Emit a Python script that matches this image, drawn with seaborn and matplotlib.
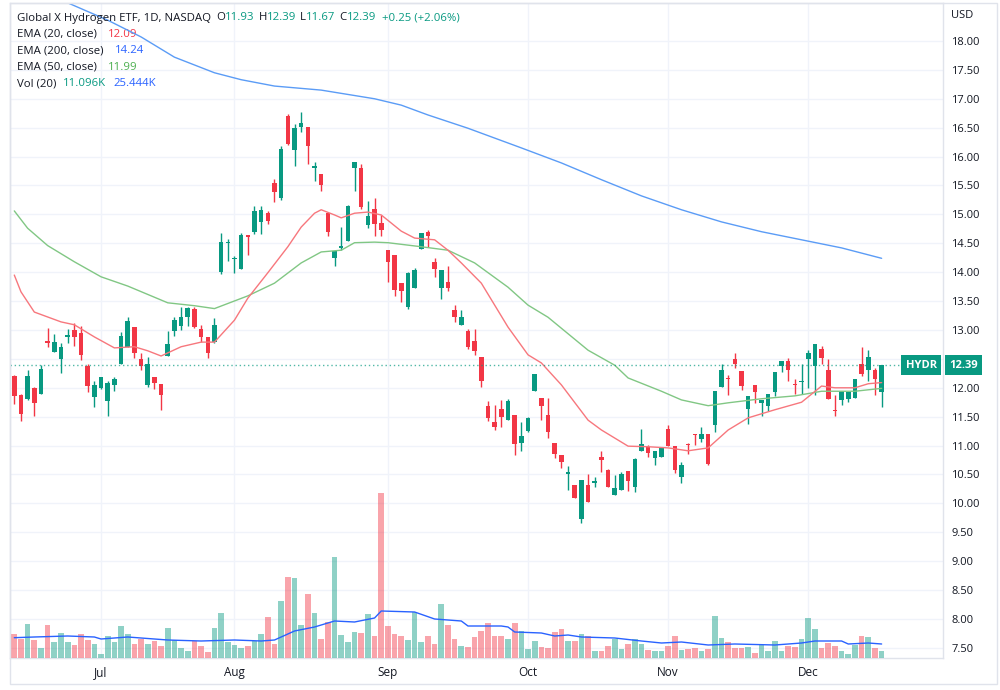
import numpy as np
import pandas as pd
import matplotlib
matplotlib.use("Agg")
import matplotlib.pyplot as plt
import matplotlib.transforms as mtransforms
from matplotlib.patches import Rectangle
import seaborn as sns

# HYDR daily bars, 13 Jun 2022 .. 16 Dec 2022
holidays = ["2022-06-20", "2022-07-04", "2022-09-05", "2022-11-24"]

opens = [12.21, 11.88, 11.80, 11.99, 11.89, 12.81, 12.62, 12.49, 12.87, 13.00,
         12.95, 12.38, 11.84, 12.00, 11.77, 12.04, 12.41, 12.71, 13.06, 12.50,
         12.05, 12.18, 12.06, 12.55, 12.99, 13.07, 13.23, 13.37, 13.02, 12.87,
         12.80, 14.01, 14.51, 14.22, 14.05, 14.64, 14.70, 14.86, 15.02, 15.54,
         15.29, 16.70, 16.11, 16.51, 16.51, 15.80, 15.70, 15.03, 14.25, 14.41,
         14.54, 15.81, 15.80, 14.81, 15.10, 14.85, 14.38, 14.29, 13.81, 13.40,
         13.73, 14.40, 14.69, 14.18, 13.73, 13.83, 13.35, 13.09, 12.99, 12.81,
         12.53, 11.69, 11.41, 11.63, 11.44, 11.53, 11.04, 11.25, 11.94, 11.83,
         11.53, 11.05, 10.83, 10.51, 10.31, 9.73, 10.32, 10.36, 10.81, 10.57,
         10.15, 10.24, 10.56, 10.28, 10.91, 10.97, 10.78, 10.80, 11.28, 11.00,
         10.46, 11.03, 11.20, 11.11, 11.20, 11.35, 12.01, 12.16, 12.49, 12.29,
         11.63, 12.04, 11.73, 11.69, 11.92, 12.37, 12.46, 12.06, 12.10, 12.50,
         12.37, 12.67, 12.30, 11.62, 11.79, 11.80, 11.82, 12.42, 12.30, 12.30,
         11.93]
highs = [12.22, 11.89, 12.31, 12.01, 12.39, 13.04, 12.93, 12.77, 13.01, 13.12,
         13.07, 12.42, 12.11, 12.19, 12.11, 12.19, 12.97, 13.22, 13.06, 12.60,
         12.54, 12.18, 12.06, 12.99, 13.23, 13.39, 13.39, 13.40, 13.09, 12.87,
         13.21, 14.68, 14.57, 14.28, 14.68, 14.64, 15.15, 15.15, 15.06, 15.61,
         16.19, 16.74, 16.56, 16.77, 16.51, 15.91, 15.70, 15.03, 14.37, 14.79,
         15.17, 15.91, 15.87, 15.23, 15.28, 14.99, 14.38, 14.29, 13.81, 14.01,
         14.07, 14.67, 14.73, 14.24, 14.03, 14.10, 13.43, 13.35, 13.01, 13.01,
         12.53, 11.77, 11.70, 11.78, 11.80, 11.53, 11.41, 11.49, 12.23, 11.83,
         11.83, 11.05, 10.83, 10.65, 10.31, 10.40, 10.51, 10.45, 10.90, 10.59,
         10.49, 10.55, 10.56, 10.79, 11.29, 11.01, 10.90, 10.96, 11.36, 11.00,
         10.72, 11.05, 11.20, 11.33, 11.20, 11.95, 12.41, 12.22, 12.60, 12.29,
         11.86, 12.04, 11.78, 11.89, 12.27, 12.46, 12.51, 12.15, 12.42, 12.65,
         12.76, 12.72, 12.50, 11.88, 11.95, 11.93, 12.16, 12.71, 12.65, 12.34,
         12.39]
lows = [11.72, 11.43, 11.78, 11.52, 11.89, 12.71, 12.62, 12.26, 12.77, 12.72,
        12.48, 11.93, 11.67, 11.98, 11.52, 11.94, 12.41, 12.71, 12.52, 12.30,
        12.02, 11.98, 11.62, 12.55, 12.90, 13.00, 13.07, 13.03, 12.80, 12.52,
        12.77, 13.96, 14.20, 13.99, 14.05, 14.30, 14.66, 14.66, 14.83, 15.22,
        15.25, 16.20, 15.84, 16.42, 15.87, 15.58, 15.41, 14.63, 14.10, 14.38,
        14.54, 15.41, 15.09, 14.77, 14.63, 14.63, 13.83, 13.58, 13.48, 13.36,
        13.73, 14.40, 14.43, 13.91, 13.54, 13.68, 13.14, 13.09, 12.67, 12.56,
        12.02, 11.43, 11.27, 11.33, 11.44, 10.84, 10.90, 11.23, 11.94, 11.45,
        11.13, 10.79, 10.62, 10.24, 10.10, 9.66, 10.02, 10.29, 10.55, 10.28,
        10.15, 10.24, 10.21, 10.20, 10.91, 10.80, 10.66, 10.80, 11.00, 10.52,
        10.36, 10.85, 11.01, 11.07, 10.66, 11.24, 12.01, 11.88, 12.34, 11.96,
        11.37, 11.73, 11.52, 11.60, 11.86, 12.27, 12.12, 11.89, 11.89, 11.99,
        11.88, 12.41, 11.80, 11.51, 11.70, 11.76, 11.82, 12.20, 12.12, 11.88,
        11.67]
closes = [11.85, 11.54, 12.20, 11.74, 12.32, 12.77, 12.79, 12.70, 12.91, 12.87,
          12.56, 12.03, 12.05, 12.18, 12.09, 12.16, 12.90, 13.15, 12.61, 12.38,
          12.42, 12.08, 11.88, 12.75, 13.17, 13.23, 13.38, 13.06, 12.88, 12.60,
          13.08, 14.52, 14.52, 14.24, 14.64, 14.60, 15.05, 15.08, 14.89, 15.38,
          16.13, 16.22, 16.50, 16.58, 16.18, 15.84, 15.51, 14.70, 14.37, 14.46,
          15.15, 15.91, 15.12, 14.97, 14.83, 14.73, 14.17, 13.69, 13.68, 13.98,
          14.04, 14.67, 14.62, 14.05, 14.03, 13.72, 13.22, 13.23, 12.70, 12.64,
          12.11, 11.47, 11.33, 11.50, 11.77, 11.03, 11.17, 11.47, 12.23, 11.69,
          11.23, 10.86, 10.71, 10.54, 10.10, 10.40, 10.03, 10.39, 10.75, 10.28,
          10.26, 10.50, 10.38, 10.77, 11.02, 10.87, 10.90, 10.95, 11.00, 10.58,
          10.66, 11.01, 11.18, 11.20, 10.68, 11.95, 12.31, 12.15, 12.41, 12.03,
          11.86, 11.92, 11.78, 11.89, 12.27, 12.46, 12.30, 12.04, 12.12, 12.61,
          12.76, 12.51, 11.80, 11.60, 11.95, 11.93, 12.16, 12.24, 12.53, 12.15,
          12.39]
volumes_k = [38.4, 30.4, 54.4, 29.3, 16.5, 52.8, 26.1, 40.0, 25.1, 20.8,
             38.9, 28.3, 21.9, 6.4, 35.7, 25.1, 51.2, 38.9, 22.9, 30.4,
             21.9, 27.7, 19.7, 47.5, 28.3, 16.0, 10.7, 27.2, 19.7, 9.6,
             47.5, 72.0, 25.1, 20.8, 16.5, 19.7, 27.2, 38.4, 66.1, 22.9,
             91.2, 129.6, 128.0, 52.8, 102.9, 72.5, 30.9, 57.1, 161.6, 36.8,
             26.1, 42.1, 40.0, 70.9, 35.7, 264.0, 51.2, 38.9, 35.7, 29.3,
             73.1, 26.1, 35.7, 22.9, 86.9, 52.8, 30.4, 18.7, 17.6, 33.6,
             43.2, 55.5, 35.7, 34.7, 29.9, 56.5, 43.2, 14.9, 27.2, 17.6,
             16.0, 41.1, 46.9, 27.2, 27.2, 38.9, 35.7, 11.7, 11.7, 19.2,
             30.9, 14.9, 21.9, 30.9, 21.9, 12.8, 11.7, 11.7, 19.2, 35.7,
             12.8, 14.9, 16.5, 10.7, 13.9, 67.2, 32.0, 25.6, 16.0, 16.0,
             17.6, 8.5, 20.3, 10.7, 27.2, 11.7, 19.2, 18.1, 29.9, 63.5,
             46.4, 15.5, 24.5, 19.2, 10.7, 6.4, 20.3, 35.7, 33.1, 16.5,
             11.1]

# indicator lines, sampled at bar numbers
ema20_bars = [0, 1, 3, 7, 9, 12, 15, 18, 20, 22, 25, 28, 30, 33, 35, 38, 41, 43, 45, 46,
              48, 49, 51, 53, 55, 58, 60, 63, 65, 67, 70, 74, 77, 79, 82, 86, 88, 92, 95, 98,
              101, 104, 107, 110, 114, 118, 121, 123, 126, 128, 130]
ema20 = [13.95, 13.66, 13.31, 13.14, 13.09, 12.88, 12.69, 12.71, 12.64, 12.55,
         12.71, 12.79, 12.79, 13.17, 13.55, 13.99, 14.44, 14.78, 15.02, 15.08,
         14.99, 14.94, 15.02, 15.04, 14.99, 14.71, 14.59, 14.56, 14.38, 14.16,
         13.81, 13.05, 12.57, 12.43, 12.05, 11.44, 11.27, 10.99, 10.98, 10.96,
         10.91, 10.96, 11.27, 11.48, 11.62, 11.75, 12.03, 12.00, 12.00, 12.07, 12.09]
ema50_bars = [0, 2, 5, 9, 13, 17, 23, 27, 30, 35, 39, 43, 46, 49, 51, 54, 56, 61, 65, 69,
              74, 77, 80, 86, 90, 92, 97, 100, 104, 107, 112, 117, 121, 126, 130]
ema50 = [15.06, 14.76, 14.46, 14.18, 13.92, 13.76, 13.47, 13.42, 13.37, 13.59,
         13.81, 14.16, 14.35, 14.38, 14.51, 14.52, 14.51, 14.44, 14.38, 14.16,
         13.74, 13.43, 13.22, 12.65, 12.39, 12.17, 11.94, 11.79, 11.69, 11.74,
         11.81, 11.86, 11.94, 11.94, 11.99]
ema200_bars = [0, 8, 14, 19, 24, 30, 34, 39, 46, 54, 58, 62, 68, 76, 82, 88, 94, 100,
               106, 112, 118, 124, 130]
ema200 = [19.04, 18.66, 18.36, 18.07, 17.72, 17.45, 17.33, 17.22, 17.15, 17.00,
          16.89, 16.72, 16.49, 16.15, 15.89, 15.60, 15.32, 15.08, 14.87, 14.70,
          14.56, 14.42, 14.24]
volma_bars = [0, 3, 8, 12, 13, 17, 23, 28, 33, 37, 39, 42, 45, 48, 51, 54, 55, 60, 63, 67,
              68, 73, 74, 75, 79, 81, 83, 85, 90, 94, 97, 100, 104, 108, 114, 118, 120, 124,
              125, 128, 130]
volma = [32.5, 33.6, 35.2, 33.6, 30.4, 33.6, 28.8, 27.2, 28.8, 27.2,
         28.8, 43.2, 49.6, 59.2, 57.6, 64.0, 75.2, 73.6, 62.4, 59.2,
         51.2, 51.2, 49.6, 41.6, 40.0, 35.2, 36.8, 33.6, 32.0, 27.2,
         24.0, 25.6, 20.8, 22.4, 20.8, 24.0, 27.2, 27.2, 22.4, 24.0, 22.4]

legend_rows = [
    [("Global X Hydrogen ETF, 1D, NASDAQ", "dark", 0), ("O", "dark", 5), ("11.93", "up", 0),
     ("H", "dark", 4), ("12.39", "up", 0), ("L", "dark", 4), ("11.67", "up", 0),
     ("C", "dark", 4), ("12.39", "up", 0), ("+0.25 (+2.06%)", "up", 6)],
    [("EMA (20, close)", "dark", 0), ("12.09", "red", 11)],
    [("EMA (200, close)", "dark", 0), ("14.24", "blue", 11)],
    [("EMA (50, close)", "dark", 0), ("11.99", "green", 11)],
    [("Vol (20)", "dark", 0), ("11.096K", "up", 7), ("25.444K", "blue", 7)],
]

UP = "#089981"
DOWN = "#f23645"
DARK = "#131722"
BORDER = "#e0e3eb"
GRID = "#f0f3fa"
TXT = {"dark": DARK, "up": UP, "red": DOWN, "blue": "#2962ff", "green": "#4caf50"}
FS = 8

sns.set_theme(style="white")
plt.rcParams["font.family"] = ["Open Sans", "DejaVu Sans"]

dates = pd.bdate_range("2022-06-13", "2022-12-16")
dates = dates[~dates.isin(pd.to_datetime(holidays))]
x = np.arange(len(dates))
o, h, l, c = (np.array(a) for a in (opens, highs, lows, closes))
up = c >= o
cols = np.where(up, UP, DOWN)

W, H = 1000, 690
fig = plt.figure(figsize=(W / 100, H / 100), dpi=100)


def rect(x0, y0, x1, y1):
    return [x0 / W, 1 - y1 / H, (x1 - x0) / W, (y1 - y0) / H]


ax = fig.add_axes(rect(10, 3, 943, 658))
ax_v = fig.add_axes(rect(10, 3, 943, 658), sharex=ax)
ax_v.patch.set_alpha(0)

# candles
ax.vlines(x, l, h, colors=cols, lw=1, zorder=2)
ax.bar(x, np.maximum(np.abs(c - o), 0.02), bottom=np.minimum(o, c), width=0.68,
       color=cols, lw=0, zorder=3)

sns.lineplot(x=ema200_bars, y=ema200, ax=ax, color="#5b9cf6", lw=1, zorder=4)
sns.lineplot(x=ema50_bars, y=ema50, ax=ax, color="#81c784", lw=1, zorder=4)
sns.lineplot(x=ema20_bars, y=ema20, ax=ax, color="#f7777d", lw=1, zorder=4)
ax.axhline(closes[-1], color=UP, ls=(0, (1, 2)), lw=1, alpha=0.7, zorder=4)

# volume pane
ax_v.bar(x, volumes_k, width=0.85, color=cols, alpha=0.45, lw=0)
sns.lineplot(x=volma_bars, y=volma, ax=ax_v, color="#2962ff", lw=1)
ax_v.set_ylim(0, 655 * 1.6)
ax_v.set_xlabel("")
ax_v.set_ylabel("")
ax_v.tick_params(left=False, bottom=False, labelleft=False, labelbottom=False)
for s in ax_v.spines.values():
    s.set_visible(False)

ax.set_xlim(-0.645, 139.2)
ax.set_ylim(7.325, 18.657)
ax.set_xlabel("")
ax.set_ylabel("")

ticks = np.arange(7.5, 18.01, 0.5)
ax.yaxis.tick_right()
ax.set_yticks(ticks, labels=[f"{t:.2f}" for t in ticks])
month_pos = [i for i in range(len(dates)) if i == 0 or dates[i].month != dates[i - 1].month][1:]
ax.set_xticks(month_pos, labels=[dates[i].strftime("%b") for i in month_pos])
ax.tick_params(axis="y", length=0, pad=6, labelsize=FS, labelcolor=DARK)
ax.tick_params(axis="x", length=0, pad=6, labelsize=FS + 0.5, labelcolor=DARK)
ax.grid(True, color=GRID, lw=1)
ax.set_axisbelow(True)
for s in ax.spines.values():
    s.set_color(BORDER)
    s.set_linewidth(1)

fig.patches.append(Rectangle((10 / W, 1 - 684 / H), 987 / W, 681 / H, transform=fig.transFigure,
                             fill=False, ec=BORDER, lw=1))
fig.text(951 / W, 1 - 15 / H, "USD", fontsize=FS, color=DARK, va="center", ha="left")

# last price labels
blend = mtransforms.blended_transform_factory(ax.transAxes, ax.transData)
box = dict(boxstyle="square,pad=0.4", fc=UP, ec="none")
ax.annotate(f"{closes[-1]:.2f}", xy=(1, closes[-1]), xycoords=blend, xytext=(6, 0),
            textcoords="offset pixels", ha="left", va="center", color="white", fontsize=FS,
            fontweight="bold", bbox=box, zorder=10, annotation_clip=False)
ax.annotate("HYDR", xy=(1, closes[-1]), xycoords=blend, xytext=(-6, 0),
            textcoords="offset pixels", ha="right", va="center", color="white", fontsize=FS,
            fontweight="bold", bbox=box, zorder=10, annotation_clip=False)

# legend rows
for k, row in enumerate(legend_rows):
    y = 18 + k * 16.4
    prev = None
    for text, ckey, gap in row:
        if prev is None:
            prev = fig.text(17 / W, 1 - y / H, text, color=TXT[ckey], fontsize=FS + 0.2,
                            va="center", ha="left")
        else:
            prev = ax.annotate(text, xy=(1, 0), xycoords=prev, xytext=(gap, 0),
                               textcoords="offset pixels", color=TXT[ckey], fontsize=FS + 0.2,
                               va="bottom", ha="left", annotation_clip=False)

fig.savefig("out.png", dpi=100)
